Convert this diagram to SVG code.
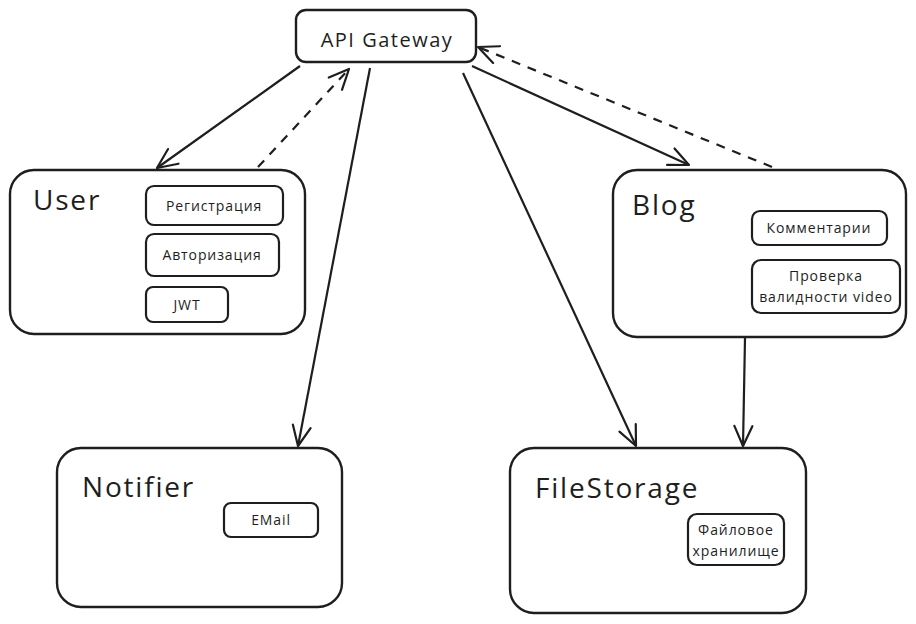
<svg xmlns="http://www.w3.org/2000/svg" width="916" height="624" viewBox="0 0 916 624">
<defs>
<marker id="arr" viewBox="0 0 24 24" refX="22" refY="12" markerWidth="24" markerHeight="24" markerUnits="userSpaceOnUse" orient="auto">
<path d="M2 3 L22 12 L2 21" fill="none" stroke="#1e1e1e" stroke-width="2.2" stroke-linecap="round" stroke-linejoin="round"/>
</marker>
<style>
.box{fill:#fff;stroke:#1e1e1e;stroke-width:2.4}
.sub{fill:#fff;stroke:#1e1e1e;stroke-width:2.2}
.t{font-family:"Open Sans","DejaVu Sans",sans-serif;fill:#1e1e1e}
.title{font-size:28px;letter-spacing:1.8px}
.small{font-size:14px;letter-spacing:0.9px;text-anchor:middle}
.line{fill:none;stroke:#1e1e1e;stroke-width:2.2;marker-end:url(#arr)}
.dash{stroke-dasharray:9 8}
</style>
</defs>
<rect width="916" height="624" fill="#fff"/>
<g id="connectors">
<line class="line" x1="300" y1="66" x2="157" y2="168"/>
<line class="line dash" x1="258" y1="167" x2="349" y2="69"/>
<line class="line" x1="370" y1="68" x2="298" y2="446"/>
<line class="line" x1="463" y1="73" x2="636" y2="446"/>
<line class="line" x1="472" y1="66" x2="689" y2="165"/>
<line class="line dash" x1="772" y1="167" x2="478" y2="47"/>
<line class="line" x1="745" y1="338" x2="743" y2="446"/>
</g>
<g id="api-gateway">
<rect class="box" x="296" y="10" width="180" height="52" rx="10"/>
<text class="t" x="387" y="47" font-size="20" letter-spacing="1.5" text-anchor="middle">API Gateway</text>
</g>
<g id="user">
<rect class="box" x="10" y="170" width="295" height="164" rx="24"/>
<text class="t title" x="33" y="210">User</text>
<rect class="sub" x="146" y="186" width="137" height="39" rx="8"/>
<text class="t small" x="214" y="211">Регистрация</text>
<rect class="sub" x="146" y="234" width="133" height="42" rx="8"/>
<text class="t small" x="212" y="260">Авторизация</text>
<rect class="sub" x="146" y="287" width="82" height="35" rx="7"/>
<text class="t small" x="187" y="310">JWT</text>
</g>
<g id="blog">
<rect class="box" x="613" y="170" width="293" height="167" rx="24"/>
<text class="t title" x="632" y="215">Blog</text>
<rect class="sub" x="752" y="211" width="135" height="34" rx="8"/>
<text class="t small" x="819" y="233">Комментарии</text>
<rect class="sub" x="752" y="260" width="148" height="53" rx="9"/>
<text class="t small" x="826" y="281">Проверка</text>
<text class="t small" x="826" y="302">валидности video</text>
</g>
<g id="notifier">
<rect class="box" x="57" y="448" width="285" height="159" rx="24"/>
<text class="t title" x="82" y="497">Notifier</text>
<rect class="sub" x="224" y="503" width="94" height="34" rx="7"/>
<text class="t small" x="271" y="525">EMail</text>
</g>
<g id="filestorage">
<rect class="box" x="510" y="448" width="296" height="165" rx="24"/>
<text class="t title" x="535" y="498">FileStorage</text>
<rect class="sub" x="688" y="514" width="96" height="51" rx="9"/>
<text class="t small" x="736" y="535">Файловое</text>
<text class="t small" x="736" y="556">хранилище</text>
</g>
</svg>
